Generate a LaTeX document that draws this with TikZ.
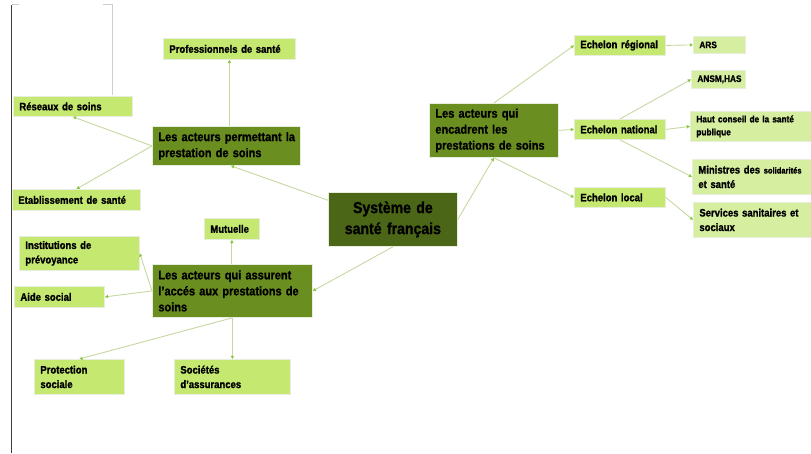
\documentclass[tikz,border=0pt]{standalone}
\usepackage{fontspec}
\setmainfont{Liberation Sans}
\newfontfamily\nar[FakeStretch=0.88,FakeBold=1.2]{Liberation Sans Bold}
\usetikzlibrary{arrows.meta,calc}
\definecolor{lg}{RGB}{196,232,112}
\definecolor{lp}{RGB}{214,238,160}
\definecolor{dg}{RGB}{107,142,32}
\definecolor{sg}{RGB}{76,102,24}
\definecolor{bord}{RGB}{232,238,222}
\definecolor{lnk}{RGB}{196,216,160}
\definecolor{tip}{RGB}{140,198,63}
\definecolor{frameD}{RGB}{60,60,50}
\definecolor{frameL}{RGB}{206,206,196}
\begin{document}
\begin{tikzpicture}[x=1pt,y=-1pt,
  basebox/.style={anchor=north west, inner xsep=6pt, inner ysep=0pt, align=left, line width=0.8pt, draw=bord, text=black},
  lbox/.style={basebox, fill=lg, font=\nar\fontsize{10.8}{14.5}\selectfont},
  pbox/.style={basebox, fill=lp, font=\nar\fontsize{10.8}{14.5}\selectfont},
  sbox/.style={basebox, fill=lp, font=\nar\fontsize{9.4}{13}\selectfont},
  dbox/.style={basebox, fill=dg, font=\nar\fontsize{12.5}{16}\selectfont},
  sysbox/.style={basebox, fill=sg, align=center, font=\nar\fontsize{16}{21}\selectfont},
  link/.style={draw=lnk, line width=0.9pt, -{Triangle[width=3.2pt,length=3.2pt,color=tip]}}
]
\useasboundingbox (0,0) rectangle (811,453);
% frame lines
\draw[frameD, line width=1.4pt] (11.5,5) -- (11.5,453);
\draw[frameL, line width=0.8pt] (12,4.5) -- (19,4.5);
\draw[frameL, line width=0.8pt] (103,4.5) -- (112.5,4.5) -- (112.5,95);

% nodes
\node[sysbox, minimum width=129pt, minimum height=54pt, text width=117pt] (sys) at (328,192) {Système de\\santé français};

\node[dbox, minimum height=39pt, text width=136pt] (acp) at (152,126) {\mbox{Les acteurs permettant la}\\prestation de soins};
\node[lbox, minimum height=21pt, text width=120pt] (prof) at (163,38) {Professionnels de santé};
\node[lbox, minimum height=20pt, text width=107pt] (res) at (13,96) {Réseaux de soins};
\node[lbox, minimum height=21pt, text width=116pt] (etab) at (12,189) {\mbox{Etablissement de santé}};

\node[dbox, minimum height=53pt, text width=148pt] (aas) at (152,264) {\mbox{Les acteurs qui assurent}\\\mbox{l’accés aux prestations de}\\soins};
\node[lbox, minimum height=21pt, text width=43pt] (mut) at (204,218) {Mutuelle};
\node[lbox, minimum height=34pt, text width=108pt] (inst) at (19,236) {Institutions de\\prévoyance};
\node[lbox, minimum height=21pt, text width=78pt] (aide) at (14,286) {Aide social};
\node[lbox, minimum height=35pt, text width=78pt] (prot) at (34,359) {Protection\\sociale};
\node[lbox, minimum height=35pt, text width=104pt] (soc) at (174,359) {Sociétés\\d’assurances};

\node[dbox, minimum height=54pt, text width=117pt] (enc) at (429,103) {Les acteurs qui\\encadrent les\\\mbox{prestations de soins}};
\node[lbox, minimum height=20pt, text width=79pt] (reg) at (574,35) {\mbox{Echelon régional}};
\node[lbox, minimum height=20pt, text width=79pt] (nat) at (574,119) {\mbox{Echelon national}};
\node[lbox, minimum height=20pt, text width=79pt] (loc) at (574,187) {Echelon local};

\node[sbox, minimum height=17pt, text width=40pt] (ars) at (693,36) {ARS};
\node[sbox, minimum height=18pt, text width=42pt] (ansm) at (691,70) {ANSM,HAS};
\node[sbox, minimum height=30pt, text width=109pt] (haut) at (690,111) {\mbox{Haut conseil de la santé}\\publique};
\node[pbox, minimum height=35pt, text width=107pt] (mini) at (692,159) {\mbox{Ministres des {\fontsize{8.6}{10}\selectfont solidarités}}\\et santé};
\node[pbox, minimum height=35pt, text width=106pt] (serv) at (693,202) {\mbox{Services sanitaires et}\\sociaux};

% connectors
\draw[link] ($(sys.north west)!0.15!(sys.south west)$) -- ($(acp.south west)!0.53!(acp.south east)$);
\draw[link] (prof.south |- acp.north) -- (prof.south);
\draw[link] (acp.west) -- (res.south);
\draw[link] (acp.west) -- (etab.north);

\draw[link] (sys.south) -- (aas.east);
\draw[link] (mut.south |- aas.north) -- (mut.south);
\draw[link] (aas.west) -- (inst.east);
\draw[link] (aas.west) -- (aide.east);
\draw[link] (aas.south) -- (prot.north);
\draw[link] (soc.north |- aas.south) -- (soc.north);

\draw[link] (sys.east) -- (enc.south);
\draw[link] (enc.north) -- (reg.west);
\draw[link] (enc.east) -- (nat.west);
\draw[link] (enc.south) -- (loc.west);

\draw[link] (reg.east) -- (ars.west);
\draw[link] (nat.north) -- (ansm.west);
\draw[link] (nat.east) -- (haut.west);
\draw[link] (nat.south) -- (mini.west);
\draw[link] (loc.east) -- (serv.west);
\end{tikzpicture}
\end{document}
